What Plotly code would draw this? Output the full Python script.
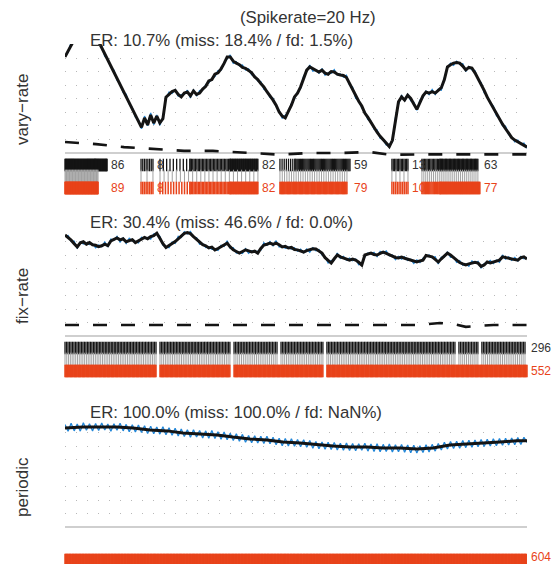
import numpy as np
import plotly.graph_objects as go

# ---------------------------------------------------------------- data
T_END = 30.2   # recording length (s)
DT = 0.2       # sampling step of the rate estimates (s)

# smoothed firing-rate estimate (Hz), one value every DT seconds
vary_rate = [35.4, 37.7, 40.0, 42.2, 44.5, 46.8, 49.1, 50.3, 48.0, 45.5,
             43.3, 41.0, 38.8, 36.5, 34.2, 32.0, 29.7, 27.4, 25.2, 22.9,
             20.7, 18.4, 16.1, 13.9, 11.6, 9.3, 12.8, 10.2, 13.9, 10.9,
             13.5, 11.0, 12.5, 20.5, 21.5, 22.6, 23.0, 21.5, 20.6, 22.0,
             22.4, 21.0, 22.8, 21.5, 22.0, 23.5, 24.5, 26.5, 27.0, 29.0,
             29.5, 31.0, 33.0, 35.4, 35.4, 33.8, 33.1, 32.5, 31.5, 31.2,
             30.4, 29.5, 28.0, 27.0, 25.5, 24.3, 22.5, 21.0, 19.4, 17.5,
             15.0, 13.5, 12.8, 15.2, 17.5, 20.6, 22.0, 24.3, 27.5, 30.5,
             31.7, 31.0, 30.2, 29.8, 30.5, 29.4, 29.0, 30.0, 29.8, 29.0,
             28.7, 28.5, 27.8, 25.5, 23.5, 21.0, 19.0, 17.2, 14.6, 13.0,
             11.0, 9.0, 7.5, 6.0, 4.6, 3.3, 2.2, 4.5, 12.5, 18.8,
             20.6, 19.4, 21.2, 20.0, 18.0, 16.0, 18.5, 21.0, 22.4, 22.0,
             22.5, 22.0, 23.0, 24.0, 27.0, 31.7, 32.5, 33.1, 33.3, 33.1,
             32.0, 30.6, 31.5, 31.3, 29.5, 27.5, 25.5, 23.0, 20.5, 18.5,
             16.5, 14.5, 12.2, 10.5, 8.8, 7.0, 5.5, 4.6, 4.0, 3.5,
             2.7, 2.0]
# deviation of the raw (unsmoothed) estimate from the smoothed one (Hz)
vary_raw_dev = [0.4, -0.6, 0.8, -0.5, 0.3, -0.7, 0.9, -0.4, 0.6, -0.8,
                0.5, -0.3, 0.7, -0.9, 0.4, -0.5, 0.8, -0.6, 0.3, -0.7,
                0.9, -0.4, 0.5, -0.8, 0.6, -0.5, 0.7, -0.3, 0.8, -0.6,
                0.4, -0.9, 0.6, -0.5, 0.9, -0.7, 0.3, -0.6, 0.8, -0.4,
                0.7, -0.8, 0.5, -0.6, 0.9, -0.3, 0.6, -0.7, 0.4, -0.9,
                0.8, -0.5, 0.3, -0.6, 0.7, -0.8, 0.5, -0.4, 0.9, -0.6,
                0.6, -0.7, 0.4, -0.5, 0.8, -0.9, 0.3, -0.6, 0.7, -0.4,
                0.5, -0.8, 0.9, -0.3, 0.6, -0.7, 0.4, -0.6, 0.8, -0.5,
                0.7, -0.9, 0.3, -0.4, 0.6, -0.8, 0.5, -0.7, 0.9, -0.3,
                0.4, -0.6, 0.8, -0.5, 0.7, -0.9, 0.3, -0.6, 0.5, -0.8,
                0.6, -0.4, 0.9, -0.7, 0.3, -0.5, 0.8, -0.6, 0.4, -0.9,
                0.7, -0.3, 0.5, -0.8, 0.6, -0.4, 0.9, -0.7, 0.3, -0.6,
                0.8, -0.5, 0.4, -0.9, 0.7, -0.3, 0.6, -0.8, 0.5, -0.4,
                0.9, -0.6, 0.3, -0.7, 0.8, -0.5, 0.4, -0.9, 0.6, -0.3,
                0.7, -0.8, 0.5, -0.6, 0.9, -0.4, 0.3, -0.7, 0.6, -0.5,
                0.8, -0.4]

fix_rate = [37.4, 36.5, 35.5, 34.2, 33.0, 34.5, 34.9, 34.0, 34.6, 33.8,
            33.6, 33.1, 33.4, 34.0, 33.5, 35.2, 35.9, 36.3, 35.6, 36.0,
            34.9, 35.3, 35.7, 34.6, 35.2, 35.8, 36.5, 36.0, 36.8, 37.2,
            38.1, 36.2, 34.2, 32.8, 33.5, 34.3, 35.0, 36.0, 36.9, 38.0,
            38.3, 37.9, 36.8, 35.7, 34.9, 33.8, 33.4, 32.6, 32.9, 31.9,
            32.4, 33.0, 33.6, 34.4, 33.0, 31.9, 31.3, 30.7, 31.3, 31.9,
            31.5, 31.1, 31.4, 30.7, 32.4, 33.7, 34.0, 34.4, 33.9, 34.4,
            33.8, 33.0, 33.2, 32.6, 32.8, 32.0, 31.9, 31.4, 31.1, 31.6,
            31.9, 32.3, 32.2, 31.5, 30.7, 29.0, 27.8, 27.0, 28.6, 30.0,
            29.3, 28.9, 28.4, 28.1, 28.5, 28.1, 27.3, 26.3, 30.0, 30.4,
            30.7, 30.2, 30.0, 30.6, 31.1, 30.6, 30.0, 29.6, 29.1, 28.9,
            29.2, 28.8, 28.4, 28.1, 27.8, 27.4, 27.8, 28.1, 29.8, 29.6,
            29.3, 28.4, 27.4, 28.6, 29.6, 30.7, 30.0, 29.1, 27.9, 27.2,
            26.7, 26.3, 26.7, 27.0, 27.3, 27.0, 25.8, 26.3, 27.4, 27.1,
            27.4, 27.8, 28.1, 29.3, 29.0, 28.9, 28.6, 28.3, 28.1, 29.0,
            29.3, 28.5]
fix_raw_dev = [-0.5, 0.7, -0.4, 0.9, -0.6, 0.3, -0.8, 0.5, -0.7, 0.4,
               -0.9, 0.6, -0.3, 0.8, -0.5, 0.7, -0.4, 0.6, -0.8, 0.3,
               -0.6, 0.9, -0.5, 0.4, -0.7, 0.8, -0.3, 0.5, -0.9, 0.6,
               -0.4, 0.7, -0.6, 0.3, -0.8, 0.5, -0.7, 0.9, -0.4, 0.6,
               -0.5, 0.8, -0.3, 0.7, -0.9, 0.4, -0.6, 0.5, -0.8, 0.3,
               -0.7, 0.6, -0.4, 0.9, -0.5, 0.8, -0.6, 0.3, -0.7, 0.4,
               -0.9, 0.5, -0.3, 0.7, -0.6, 0.8, -0.4, 0.6, -0.5, 0.9,
               -0.8, 0.3, -0.7, 0.4, -0.6, 0.7, -0.5, 0.8, -0.3, 0.6,
               -0.9, 0.4, -0.6, 0.5, -0.7, 0.3, -0.8, 0.9, -0.4, 0.7,
               -0.5, 0.6, -0.3, 0.8, -0.6, 0.4, -0.9, 0.5, -0.7, 0.3,
               -0.4, 0.8, -0.6, 0.7, -0.5, 0.9, -0.3, 0.4, -0.8, 0.6,
               -0.7, 0.5, -0.4, 0.3, -0.9, 0.8, -0.6, 0.7, -0.5, 0.4,
               -0.3, 0.9, -0.7, 0.6, -0.4, 0.5, -0.8, 0.3, -0.6, 0.7,
               -0.5, 0.4, -0.9, 0.8, -0.3, 0.6, -0.7, 0.5, -0.4, 0.9,
               -0.6, 0.3, -0.8, 0.7, -0.5, 0.4, -0.6, 0.8, -0.3, 0.5,
               -0.7, 0.6]

# periodic train: smoothed estimate (sparse knots) and raw estimate (every DT)
periodic_t = [0.0, 1.18, 2.29, 3.4, 4.44, 5.56, 6.67, 7.71, 8.82, 9.93,
              10.98, 12.09, 13.2, 14.25, 15.36, 16.47, 17.52, 18.63, 19.74,
              20.78, 21.9, 23.0, 24.05, 25.16, 26.27, 27.32, 28.43, 29.54, 30.2]
periodic_rate = [36.7, 37.0, 37.0, 37.0, 36.7, 35.9, 35.6, 34.8, 34.4, 34.1,
                 33.3, 32.6, 32.2, 31.5, 31.1, 30.4, 30.0, 29.6, 29.6,
                 29.3, 29.3, 28.9, 29.3, 30.4, 30.7, 31.1, 31.5, 31.9, 31.9]
periodic_raw = [38.0, 35.5, 38.4, 35.6, 38.1, 35.5, 38.6, 35.8, 38.2, 35.6,
                38.3, 35.7, 38.5, 35.9, 38.1, 35.5, 38.2, 35.8, 38.4, 35.6,
                38.0, 35.3, 37.9, 35.2, 37.8, 35.0, 37.5, 34.6, 37.3, 34.5,
                37.0, 34.4, 37.1, 34.2, 36.8, 34.0, 36.6, 33.7, 36.3, 33.5,
                36.0, 33.2, 36.0, 33.3, 35.7, 33.0, 35.6, 32.9, 35.7, 32.8,
                35.3, 32.5, 35.2, 32.3, 34.7, 32.0, 34.5, 31.8, 34.3, 31.4,
                33.9, 31.2, 33.8, 31.1, 33.6, 30.9, 33.6, 30.8, 33.2, 30.5,
                32.9, 30.1, 32.8, 30.0, 32.7, 29.9, 32.4, 29.7, 32.3, 29.5,
                32.0, 29.2, 31.7, 29.0, 31.5, 28.8, 31.4, 28.7, 31.3, 28.5,
                31.0, 28.4, 31.1, 28.3, 30.9, 28.2, 30.8, 28.4, 31.0, 28.1,
                30.7, 28.0, 30.8, 27.9, 30.6, 28.0, 30.7, 27.8, 30.5, 27.9,
                30.6, 27.7, 30.4, 27.5, 30.3, 27.4, 30.1, 27.6, 30.5, 27.8,
                30.6, 28.1, 30.9, 28.5, 31.4, 28.9, 31.7, 29.1, 31.8, 29.2,
                32.0, 29.4, 32.1, 29.5, 32.2, 29.7, 32.4, 29.8, 32.5, 30.0,
                32.7, 30.1, 32.8, 30.3, 32.9, 30.4, 33.0, 30.5, 33.1, 30.6,
                33.2, 31.3]

# lower bound curves (dashed)
vary_bound_t = [0.0, 2.03, 3.86, 5.69, 7.78, 9.67, 11.96, 14.05, 15.88,
                17.97, 19.87, 21.24, 23.6, 30.2]
vary_bound = [3.9, 3.1, 2.0, 1.3, 0.6, 0.6, -0.2, -0.8, -0.2,
              -0.2, 0.2, -0.8, -0.7, -0.7]
fix_bound_t = [0.0, 5.0, 10.0, 15.0, 20.0, 23.0, 24.5, 25.5, 26.2, 27.0, 28.0, 30.2]
fix_bound = [4.1, 4.1, 4.1, 4.0, 4.1, 4.1, 4.8, 4.3, 3.4, 3.6, 4.1, 4.1]

# spike windows: (start s, end s, number of spikes)
vary_detected = [(0.0, 1.96, 60), (1.96, 2.75, 26), (4.97, 5.75, 8),
                 (6.21, 8.17, 10), (8.17, 10.78, 30), (10.78, 12.61, 42),
                 (14.05, 15.03, 8), (15.03, 18.63, 51), (21.37, 22.42, 13),
                 (23.33, 24.51, 15), (24.51, 26.99, 48)]
vary_matched = [(0.0, 2.16, 45), (4.97, 5.75, 3), (6.21, 12.61, 25),
                (14.05, 18.43, 30), (21.37, 22.42, 5), (23.33, 26.99, 30)]
vary_true = [(0.0, 2.16, 89), (4.97, 5.75, 8), (6.21, 8.17, 12),
             (8.17, 10.78, 30), (10.78, 12.61, 40), (14.05, 18.43, 79),
             (21.37, 22.42, 10), (23.33, 24.51, 17), (24.51, 27.12, 60)]
vary_groups = [(0.0, 3.5), (4.5, 5.9), (6.0, 13.0), (13.5, 19.5),
               (21.0, 23.0), (23.2, 28.0)]

fix_detected = [(0.0, 5.95, 62), (6.21, 10.78, 48), (11.05, 13.86, 29),
                (14.12, 16.86, 29), (17.12, 25.49, 86), (25.75, 26.99, 13),
                (27.25, 30.07, 29)]
fix_matched = [(0.0, 5.95, 52), (6.21, 10.78, 40), (11.05, 13.86, 24),
               (14.12, 16.86, 24), (17.12, 25.49, 72), (25.75, 26.99, 11),
               (27.25, 30.07, 24)]
fix_true = [(0.0, 5.95, 114), (6.21, 10.78, 86), (11.05, 16.86, 109),
            (17.12, 30.2, 243)]

periodic_true = [(0.0, 30.15, 604)]

# ---------------------------------------------------------------- style
W, H = 555, 564
X0, X1 = 65, 527            # plot area, px
PX_PER_HZ = 2.7
BLACK, GRAY, RED, BLUE = "#141414", "#a2a2a2", "#E8431A", "#2186d8"
TXT = "#333333"
FONT = "Liberation Sans, Arial, Helvetica, sans-serif"
TICK_WIDTH = {BLACK: 1.3, GRAY: 1.0, RED: 1.5}


def spike_times(windows):
    out = []
    for a, b, n in windows:
        out.extend(np.linspace(a, b, n) if n > 1 else [a])
    return np.array(out)


def group_counts(windows, groups):
    return [sum(n for a, b, n in windows if g0 <= a and b <= g1) for g0, g1 in groups]


fig = go.Figure()

t_vary = np.arange(len(vary_rate)) * DT
t_fix = np.arange(len(fix_rate)) * DT

panels = [
    dict(label="vary\u2212rate", base=152.5, bottom=196, label_y=110,
         er="ER: 10.7% (miss: 18.4% / fd: 1.5%)", er_y=41,
         rate_t=t_vary, rate=vary_rate,
         raw_t=t_vary, raw=np.add(vary_rate, vary_raw_dev),
         bound_t=vary_bound_t, bound=vary_bound,
         rows=[(vary_detected, BLACK, 12.5), (vary_matched, GRAY, 23.5), (vary_true, RED, 35.5)],
         groups=vary_groups, lab_shift=0),
    dict(label="fix\u2212rate", base=336, bottom=380, label_y=296,
         er="ER: 30.4% (miss: 46.6% / fd: 0.0%)", er_y=223,
         rate_t=t_fix, rate=fix_rate,
         raw_t=t_fix, raw=np.add(fix_rate, fix_raw_dev),
         bound_t=fix_bound_t, bound=fix_bound,
         rows=[(fix_detected, BLACK, 12), (fix_matched, GRAY, 23), (fix_true, RED, 35)],
         groups=None, lab_shift=0),
    dict(label="periodic", base=527, bottom=564, label_y=487,
         er="ER: 100.0% (miss: 100.0% / fd: NaN%)", er_y=412,
         rate_t=periodic_t, rate=periodic_rate,
         raw_t=np.arange(len(periodic_raw)) * DT, raw=periodic_raw,
         bound_t=None, bound=None,
         rows=[(periodic_true, RED, 33)],
         groups=None, lab_shift=3),
]

annotations = []
layout_axes = {}
for i, p in enumerate(panels, start=1):
    sfx = "" if i == 1 else str(i)
    xa, ya = "x" + sfx, "y" + sfx
    top_px = p["base"] - 108.5
    vtop = (p["base"] - top_px) / PX_PER_HZ
    vbot = (p["base"] - p["bottom"]) / PX_PER_HZ

    layout_axes["xaxis" + sfx] = dict(domain=[X0 / W, X1 / W], range=[0, T_END], anchor=ya,
                                      visible=False, fixedrange=True)
    layout_axes["yaxis" + sfx] = dict(domain=[1 - p["bottom"] / H, 1 - top_px / H],
                                      range=[vbot, vtop], anchor=xa,
                                      tickvals=[5, 10, 15, 20, 25, 30, 35, 40],
                                      showticklabels=False, ticks="",
                                      showgrid=True, gridcolor="#b8b8b8", gridwidth=1.3,
                                      griddash="1.3px,9.7px",
                                      zeroline=True, zerolinecolor="#cfcfcf", zerolinewidth=2,
                                      showline=False, fixedrange=True)

    # rate estimates: raw (blue) under smoothed (black)
    fig.add_trace(go.Scatter(x=p["raw_t"], y=p["raw"], mode="lines",
                             line=dict(color=BLUE, width=1.3), xaxis=xa, yaxis=ya,
                             hoverinfo="skip"))
    fig.add_trace(go.Scatter(x=p["rate_t"], y=p["rate"], mode="lines",
                             line=dict(color=BLACK, width=3), xaxis=xa, yaxis=ya,
                             hoverinfo="skip"))
    if p["bound"] is not None:
        fig.add_trace(go.Scatter(x=p["bound_t"], y=p["bound"], mode="lines",
                                 line=dict(color=BLACK, width=2.6, dash="14px,14px"),
                                 xaxis=xa, yaxis=ya, hoverinfo="skip"))

    # spike rasters with counts
    for windows, color, off in p["rows"]:
        ts = spike_times(windows)
        yv = -off / PX_PER_HZ
        fig.add_trace(go.Scatter(x=ts, y=np.full(len(ts), yv), mode="markers",
                                 marker=dict(symbol="line-ns", size=9,
                                             line=dict(color=color, width=TICK_WIDTH[color])),
                                 cliponaxis=False, xaxis=xa, yaxis=ya, hoverinfo="skip"))
        if color == GRAY:
            continue
        lab_col = RED if color == RED else TXT
        if p["groups"]:
            counts = group_counts(windows, p["groups"])
            ends = []
            for g0, g1 in p["groups"]:
                e = max(b for rw, c, _ in p["rows"] if c != GRAY
                        for a, b, n in rw if g0 <= a and b <= g1)
                ends.append(e)
            for c, e in zip(counts, ends):
                annotations.append(dict(x=e, y=yv, xref=xa, yref=ya, text=str(c),
                                        showarrow=False, xanchor="left", xshift=2,
                                        font=dict(size=12, color=lab_col, family=FONT)))
        else:
            annotations.append(dict(x=T_END, y=yv, xref=xa, yref=ya, text=str(len(ts)),
                                    showarrow=False, xanchor="left", xshift=2,
                                    yshift=p["lab_shift"],
                                    font=dict(size=12, color=lab_col, family=FONT)))

    annotations.append(dict(x=88 / W, y=1 - p["er_y"] / H, xref="paper", yref="paper",
                            text=p["er"], showarrow=False, xanchor="left", yanchor="middle",
                            font=dict(size=16.8, color=TXT, family=FONT)))
    annotations.append(dict(x=22 / W, y=1 - p["label_y"] / H, xref="paper", yref="paper",
                            text=p["label"], showarrow=False, textangle=-90,
                            xanchor="center", yanchor="middle",
                            font=dict(size=17, color=TXT, family=FONT)))

annotations.append(dict(x=308 / W, y=1 - 17 / H, xref="paper", yref="paper",
                        text="(Spikerate=20 Hz)", showarrow=False,
                        xanchor="center", yanchor="middle",
                        font=dict(size=16.8, color=TXT, family=FONT)))

fig.update_layout(width=W, height=H, margin=dict(l=0, r=0, t=0, b=0),
                  paper_bgcolor="white", plot_bgcolor="white", showlegend=False,
                  annotations=annotations, **layout_axes)

fig.write_html("out.html")
